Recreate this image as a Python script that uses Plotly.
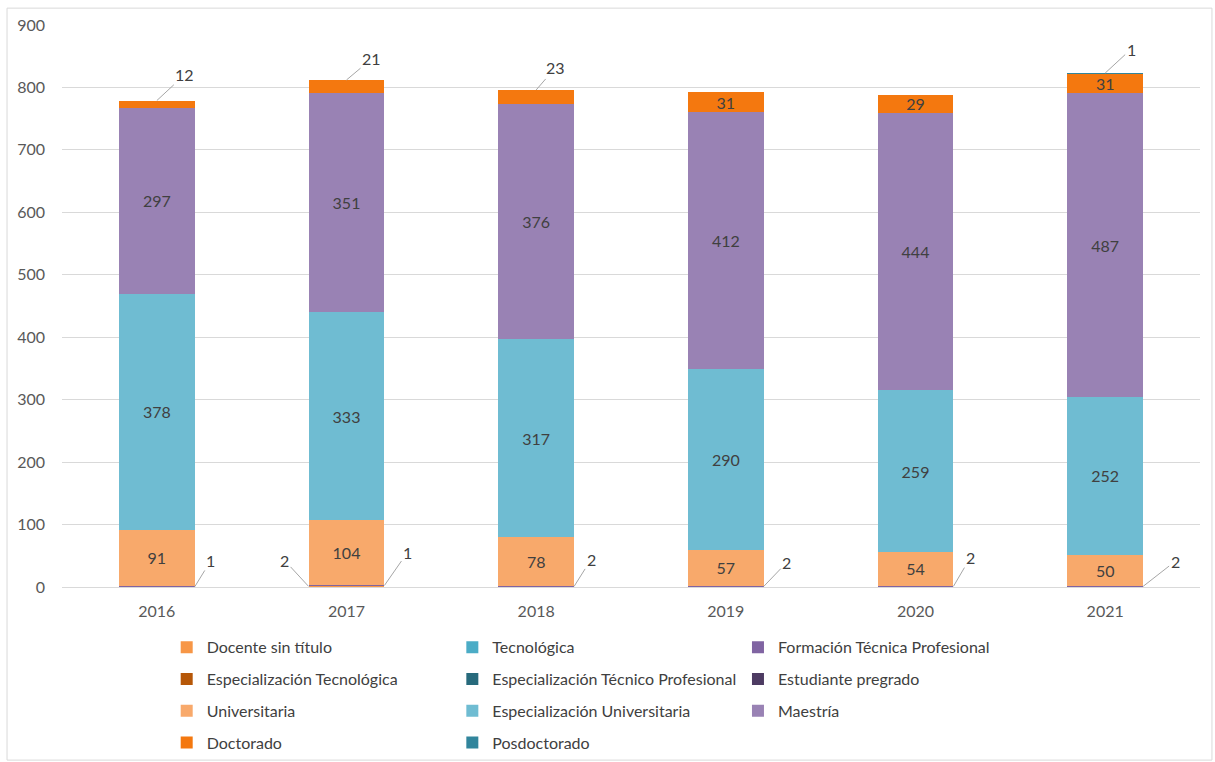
import plotly.graph_objects as go

years = ["2016", "2017", "2018", "2019", "2020", "2021"]

series_names = [
    "Docente sin título", "Tecnológica", "Formación Técnica Profesional",
    "Especialización Tecnológica", "Especialización Técnico Profesional", "Estudiante pregrado",
    "Universitaria", "Especialización Universitaria", "Maestría",
    "Doctorado", "Posdoctorado",
]
docente_sin_titulo = [0, 2, 0, 0, 0, 0]
tecnologica = [0, 0, 0, 0, 0, 0]
formacion_tecnica = [1, 1, 2, 2, 2, 2]
esp_tecnologica = [0, 0, 0, 0, 0, 0]
esp_tecnico_prof = [0, 0, 0, 0, 0, 0]
estudiante_pregrado = [0, 0, 0, 0, 0, 0]
universitaria = [91, 104, 78, 57, 54, 50]
esp_universitaria = [378, 333, 317, 290, 259, 252]
maestria = [297, 351, 376, 412, 444, 487]
doctorado = [12, 21, 23, 31, 29, 31]
posdoctorado = [0, 0, 0, 0, 0, 1]

series_values = [
    docente_sin_titulo, tecnologica, formacion_tecnica, esp_tecnologica, esp_tecnico_prof,
    estudiante_pregrado, universitaria, esp_universitaria, maestria, doctorado, posdoctorado,
]
colors = [
    "#F79646", "#4BACC6", "#8064A2", "#B65708", "#276A7C", "#4D3B62",
    "#F8A96B", "#6FBCD2", "#9982B4", "#F4780F", "#31859C",
]
# legend column for each series (Excel lays legend in 3 columns, row-major)
legend_cols = ["legend", "legend2", "legend3"]

LABEL_COLOR = "#404040"
TICK_COLOR = "#595959"
FONT = "Lato"

fig = go.Figure()
for k, (name, vals, col) in enumerate(zip(series_names, series_values, colors)):
    texts = [str(v) if v >= 25 else "" for v in vals]
    fig.add_trace(go.Bar(
        x=years, y=vals, name=name,
        marker=dict(color=col, line=dict(width=0)),
        text=texts, textposition="inside", insidetextanchor="middle",
        constraintext="none", textangle=0,
        textfont=dict(family=FONT, size=16, color=LABEL_COLOR),
        legend=legend_cols[k % 3], legendgroup=name,
        hoverinfo="x+y+name",
    ))

# Outside labels with leader lines (small segments)
bar_half = 0.2
callouts = [
    # (series index, year index, side offset in bars, ax, ay)
    (9, 0, 0, 28, -26),
    (9, 1, 0, 25, -21),
    (9, 2, 0, 19, -22),
    (10, 5, 0, 26, -24),
    (2, 0, 1, 16, -26),
    (0, 1, -1, -24, -26),
    (2, 1, 1, 23, -33),
    (2, 2, 1, 17, -27),
    (2, 3, 1, 23, -24),
    (2, 4, 1, 17, -29),
    (2, 5, 1, 32, -25),
]
for s, i, side, ax, ay in callouts:
    base = sum(series_values[j][i] for j in range(s))
    v = series_values[s][i]
    y = base + v if side == 0 else base + v / 2
    fig.add_annotation(
        x=i + side * bar_half, y=y, xref="x", yref="y",
        text=str(v), showarrow=True, arrowhead=0, arrowwidth=1,
        arrowcolor="#A6A6A6", ax=ax, ay=ay, standoff=0,
        font=dict(family=FONT, size=16, color=LABEL_COLOR),
    )

# outer chart border
fig.add_shape(type="rect", xref="paper", yref="paper",
              x0=-0.0483, x1=1.0105, y0=-0.308, y1=1.030,
              line=dict(color="#D9D9D9", width=1), fillcolor="rgba(0,0,0,0)", layer="below")

legend_common = dict(
    orientation="v", yanchor="top", y=-0.077, xanchor="left",
    font=dict(family=FONT, size=16, color=LABEL_COLOR),
    bgcolor="rgba(0,0,0,0)", tracegroupgap=8, traceorder="grouped",
    itemclick=False, itemdoubleclick=False,
)

fig.update_layout(
    width=1215, height=762,
    margin=dict(l=62, r=15, t=25, b=175, autoexpand=False),
    paper_bgcolor="white", plot_bgcolor="white",
    barmode="stack", bargap=0.6,
    font=dict(family=FONT, size=16, color=TICK_COLOR),
    showlegend=True,
    legend=dict(x=0.092, **legend_common),
    legend2=dict(x=0.343, **legend_common),
    legend3=dict(x=0.594, **legend_common),
    xaxis=dict(
        type="category", showgrid=False, showline=True, linecolor="#D9D9D9", linewidth=1,
        ticks="", tickfont=dict(family=FONT, size=16, color=TICK_COLOR), ticklabelstandoff=10,
    ),
    yaxis=dict(
        range=[0, 900], dtick=100, showgrid=True, gridcolor="#D9D9D9", gridwidth=1,
        zeroline=False, showline=False, ticks="",
        tickfont=dict(family=FONT, size=16, color=TICK_COLOR), ticklabelstandoff=16,
    ),
)

fig.write_html("out.html")
